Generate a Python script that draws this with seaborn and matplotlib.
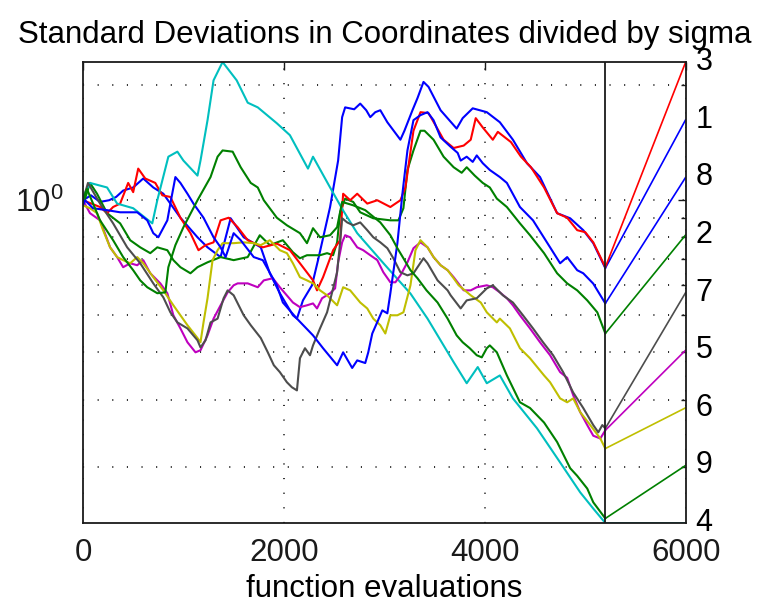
import numpy as np
import matplotlib
matplotlib.use("Agg")
import matplotlib.pyplot as plt
import seaborn as sns
from matplotlib.ticker import LogLocator, NullFormatter

# ---- data: function evaluations and standard deviations (divided by sigma) ----
blue1_x = [0, 80, 170, 260, 330, 400, 500, 600, 700, 800, 970, 1140, 1240, 1370, 1470, 1600, 1770, 1860,
           1960, 2090, 2130, 2190, 2280, 2340, 2460, 2540, 2580, 2610, 2700, 2760, 2820, 2860, 2910, 2960,
           3030, 3160, 3200, 3280, 3330, 3390, 3440, 3560, 3720, 3780, 3880, 4020, 4150, 4280, 4420,
           4550, 4720, 4850, 4980, 5080, 5200]
blue1_y = [1.0, 1.03, 0.99, 1.0, 1.02, 1.06, 1.08, 1.14, 1.08, 1.04, 0.90, 0.80, 0.753, 0.71, 0.897, 0.80,
           0.753, 0.644, 0.571, 0.50, 0.49, 0.547, 0.599, 0.697, 0.96, 1.27, 1.65, 1.75, 1.73, 1.79, 1.72,
           1.65, 1.70, 1.72, 1.60, 1.44, 1.52, 1.72, 1.85, 2.04, 1.98, 1.72, 1.54, 1.64, 1.74, 1.70, 1.60,
           1.44, 1.25, 1.15, 0.925, 0.897, 0.835, 0.772, 0.664]

green2_x = [0, 70, 140, 240, 370, 470, 570, 670, 740, 840, 900, 970, 1070, 1140, 1240, 1370, 1500, 1640,
            1760, 1860, 1990, 2090, 2160, 2230, 2360, 2430, 2490, 2530, 2560, 2610, 2690, 2760, 2890,
            3060, 3140, 3190, 3230, 3290, 3360, 3400, 3490, 3590, 3690, 3770, 3820, 3900, 3980, 4050,
            4120, 4220, 4350, 4450, 4590, 4720, 4820, 4920, 5020, 5120, 5200]
green2_y = [0.97, 1.11, 1.04, 0.925, 0.87, 0.786, 0.753, 0.727, 0.753, 0.74, 0.697, 0.668, 0.644, 0.668,
            0.688, 0.71, 0.697, 0.71, 0.81, 0.763, 0.786, 0.731, 0.705, 0.718, 0.718, 0.727, 0.718, 0.776,
            0.93, 1.01, 0.99, 0.93, 0.897, 0.886, 0.886, 0.953, 1.20, 1.35, 1.52, 1.52, 1.44, 1.30, 1.22,
            1.18, 1.22, 1.16, 1.11, 1.08, 1.01, 0.96, 0.87, 0.81, 0.727, 0.644, 0.606, 0.581, 0.547, 0.509,
            0.448]

red3_x = [0, 170, 240, 300, 370, 450, 500, 550, 620, 720, 790, 870, 970, 1070, 1150, 1220, 1300, 1370,
          1450, 1540, 1640, 1790, 1930, 2060, 2190, 2290, 2330, 2390, 2490, 2560, 2590, 2660, 2730, 2830,
          2930, 3060, 3160, 3210, 3290, 3360, 3440, 3510, 3590, 3690, 3790, 3860, 3910, 3980, 4080, 4130,
          4260, 4360, 4460, 4590, 4720, 4820, 4920, 5000, 5080, 5200]
red3_y = [1.0, 0.96, 0.925, 0.96, 0.98, 1.11, 1.05, 1.21, 1.14, 1.11, 1.03, 1.02, 0.90, 0.82, 0.74, 0.763,
          0.776, 0.886, 0.90, 0.85, 0.786, 0.753, 0.77, 0.74, 0.668, 0.617, 0.581, 0.629, 0.74, 0.786, 1.04,
          1.0, 1.04, 0.98, 1.0, 0.96, 1.0, 1.08, 1.52, 1.70, 1.69, 1.57, 1.44, 1.37, 1.39, 1.44, 1.64, 1.55,
          1.44, 1.51, 1.42, 1.30, 1.22, 1.08, 0.925, 0.90, 0.835, 0.825, 0.776, 0.668]

cyan4_x = [0, 70, 240, 340, 500, 690, 740, 850, 940, 1000, 1140, 1170, 1240, 1300, 1390, 1530, 1640, 1740,
           1930, 2060, 2240, 2290, 2460, 2590, 2730, 3000, 3260, 3430, 3530, 3690, 3820, 3930, 4020, 4150,
           4280, 4520, 4750, 4950, 5080, 5200]
cyan4_y = [1.02, 1.11, 1.08, 0.98, 0.953, 0.87, 1.0, 1.30, 1.34, 1.27, 1.16, 1.27, 1.62, 2.06, 2.30, 2.06,
           1.80, 1.75, 1.59, 1.48, 1.21, 1.30, 1.08, 0.94, 0.82, 0.68, 0.57, 0.49, 0.443, 0.377, 0.332, 0.366,
           0.332, 0.348, 0.303, 0.253, 0.206, 0.172, 0.156, 0.143]

magenta5_x = [0, 70, 170, 270, 340, 400, 470, 540, 600, 670, 770, 840, 900, 970, 1040, 1120, 1170, 1240,
              1300, 1370, 1440, 1500, 1540, 1640, 1740, 1800, 1890, 1960, 2090, 2160, 2230, 2290, 2330,
              2380, 2460, 2510, 2540, 2580, 2610, 2660, 2730, 2790, 2860, 2930, 2990, 3060, 3110, 3160,
              3230, 3290, 3360, 3430, 3490, 3560, 3630, 3690, 3790, 3860, 3920, 4020, 4080, 4150, 4220,
              4280, 4350, 4450, 4550, 4650, 4750, 4820, 4880, 4950, 5020, 5080, 5150, 5200]
magenta5_y = [1.0, 0.925, 0.886, 0.753, 0.71, 0.668, 0.684, 0.676, 0.697, 0.644, 0.606, 0.571, 0.50,
              0.462, 0.425, 0.40, 0.405, 0.443, 0.49, 0.531, 0.574, 0.599, 0.606, 0.606, 0.592, 0.617,
              0.625, 0.592, 0.54, 0.525, 0.531, 0.537, 0.521, 0.554, 0.571, 0.588, 0.688, 0.776, 0.81,
              0.80, 0.753, 0.74, 0.718, 0.697, 0.648, 0.61, 0.61, 0.636, 0.688, 0.749, 0.776, 0.753, 0.71,
              0.676, 0.656, 0.629, 0.581, 0.581, 0.592, 0.599, 0.592, 0.574, 0.554, 0.531, 0.50, 0.462,
              0.425, 0.393, 0.355, 0.343, 0.309, 0.279, 0.258, 0.242, 0.238, 0.25]

yellow6_x = [0, 70, 140, 200, 270, 340, 400, 470, 540, 600, 700, 800, 900, 970, 1040, 1140, 1170, 1200,
             1240, 1290, 1340, 1390, 1500, 1600, 1700, 1770, 1860, 1960, 2030, 2090, 2160, 2230, 2290,
             2360, 2430, 2530, 2590, 2660, 2760, 2830, 2890, 2960, 3010, 3060, 3130, 3190, 3260, 3310,
             3360, 3430, 3490, 3560, 3630, 3690, 3740, 3860, 3960, 4020, 4120, 4150, 4250, 4350, 4450,
             4590, 4650, 4750, 4820, 4880, 4950, 5050, 5150, 5200]
yellow6_y = [0.97, 0.953, 0.925, 0.835, 0.753, 0.71, 0.697, 0.684, 0.71, 0.684, 0.629, 0.581, 0.531, 0.50,
             0.471, 0.436, 0.425, 0.479, 0.554, 0.697, 0.74, 0.772, 0.772, 0.776, 0.772, 0.763, 0.786, 0.74,
             0.727, 0.684, 0.629, 0.617, 0.606, 0.581, 0.564, 0.531, 0.592, 0.581, 0.54, 0.521, 0.49, 0.471,
             0.448, 0.50, 0.50, 0.509, 0.599, 0.74, 0.786, 0.753, 0.71, 0.676, 0.656, 0.625, 0.599, 0.564,
             0.54, 0.509, 0.479, 0.49, 0.462, 0.41, 0.386, 0.348, 0.334, 0.303, 0.296, 0.303, 0.279, 0.258,
             0.238, 0.224]

gray7_x = [0, 50, 170, 300, 440, 570, 700, 800, 870, 940, 1040, 1140, 1170, 1220, 1270, 1340, 1400, 1440,
           1500, 1600, 1670, 1770, 1840, 1900, 1960, 2030, 2080, 2130, 2160, 2210, 2260, 2290, 2360, 2430,
           2490, 2530, 2560, 2580, 2630, 2690, 2760, 2830, 2890, 2960, 3030, 3090, 3160, 3230, 3290, 3390,
           3430, 3530, 3630, 3660, 3760, 3820, 3920, 4020, 4080, 4180, 4280, 4380, 4480, 4580, 4680, 4780,
           4880, 4980, 5080, 5130, 5170, 5200]
gray7_y = [1.0, 1.11, 0.98, 0.87, 0.753, 0.684, 0.606, 0.557, 0.509, 0.479, 0.462, 0.43, 0.412, 0.43, 0.479,
           0.49, 0.554, 0.581, 0.564, 0.50, 0.471, 0.436, 0.40, 0.37, 0.355, 0.334, 0.324, 0.318, 0.386,
           0.41, 0.393, 0.417, 0.462, 0.509, 0.588, 0.648, 0.776, 0.897, 0.875, 0.86, 0.875, 0.835, 0.80,
           0.776, 0.749, 0.705, 0.648, 0.636, 0.644, 0.705, 0.684, 0.617, 0.581, 0.564, 0.521, 0.547, 0.554,
           0.588, 0.599, 0.564, 0.54, 0.50, 0.462, 0.425, 0.393, 0.355, 0.314, 0.286, 0.258, 0.247, 0.258,
           0.253]

blue8_x = [0, 20, 100, 240, 370, 540, 640, 700, 750, 840, 870, 920, 970, 1040, 1100, 1200, 1300, 1370, 1420,
           1500, 1570, 1700, 1790, 1930, 1990, 2130, 2290, 2390, 2530, 2590, 2680, 2730, 2810, 2840, 2880,
           2930, 2980, 3030, 3060, 3130, 3180, 3230, 3290, 3360, 3430, 3490, 3560, 3660, 3730, 3760, 3820,
           3880, 3920, 3980, 4050, 4150, 4220, 4350, 4480, 4650, 4750, 4820, 4920, 4980, 5080, 5200]
blue8_y = [0.97, 1.0, 0.953, 0.942, 0.93, 0.93, 0.886, 0.82, 0.80, 0.886, 0.98, 1.15, 1.11, 1.04, 0.98, 0.90,
           0.80, 0.753, 0.71, 0.82, 0.786, 0.71, 0.697, 0.599, 0.54, 0.49, 0.443, 0.41, 0.37, 0.40, 0.364,
           0.381, 0.375, 0.40, 0.448, 0.48, 0.515, 0.506, 0.571, 0.772, 1.04, 1.35, 1.62, 1.67, 1.70, 1.62,
           1.46, 1.38, 1.33, 1.27, 1.30, 1.26, 1.31, 1.25, 1.20, 1.15, 1.11, 0.96, 0.886, 0.753, 0.684,
           0.71, 0.656, 0.644, 0.605, 0.537]

green9_x = [0, 40, 170, 300, 400, 500, 570, 640, 740, 820, 850, 920, 1000, 1140, 1270, 1340, 1390, 1490,
            1570, 1670, 1740, 1800, 1930, 2030, 2160, 2230, 2290, 2360, 2460, 2530, 2580, 2690, 2810, 2960,
            3060, 3130, 3190, 3260, 3330, 3420, 3530, 3630, 3720, 3780, 3850, 3920, 3970, 4020, 4050, 4120,
            4220, 4350, 4450, 4590, 4720, 4850, 4920, 5020, 5080, 5200]
green9_y = [1.0, 1.07, 0.886, 0.786, 0.71, 0.656, 0.617, 0.592, 0.571, 0.574, 0.668, 0.763, 0.85, 1.0, 1.15,
            1.30, 1.35, 1.34, 1.22, 1.11, 1.08, 1.0, 0.90, 0.86, 0.82, 0.772, 0.845, 0.80, 0.81, 0.85, 0.99,
            0.97, 0.942, 0.875, 0.81, 0.749, 0.705, 0.656, 0.625, 0.581, 0.54, 0.49, 0.443, 0.425, 0.41,
            0.393, 0.388, 0.41, 0.417, 0.40, 0.348, 0.296, 0.286, 0.262, 0.233, 0.199, 0.19, 0.176, 0.162,
            0.147]

series_x = [blue1_x, green2_x, red3_x, cyan4_x, magenta5_x, yellow6_x, gray7_x, blue8_x, green9_x]
series_y = [blue1_y, green2_y, red3_y, cyan4_y, magenta5_y, yellow6_y, gray7_y, blue8_y, green9_y]
coord_labels = ["1", "2", "3", "4", "5", "6", "7", "8", "9"]
colors = ["#0000ff", "#008000", "#ff0000", "#00bfbf", "#bf00bf", "#bfbf00", "#4d4d4d", "#0000ff", "#008000"]
x_ticks = [0, 2000, 4000, 6000]
x_max = 6000

# ---- style ----
sns.set_theme(style="white")
plt.rcParams['font.family'] = ['Liberation Sans', 'DejaVu Sans']
plt.rcParams['mathtext.fontset'] = 'custom'
plt.rcParams['mathtext.rm'] = 'Liberation Sans'
plt.rcParams['mathtext.it'] = 'Liberation Sans:italic'
plt.rcParams['mathtext.bf'] = 'Liberation Sans:bold'
for k in ['text.color', 'axes.labelcolor', 'xtick.color', 'ytick.color', 'axes.edgecolor']:
    plt.rcParams[k] = 'black'

fig = plt.figure(figsize=(7.57, 6.05), dpi=100)
ax = fig.add_axes([0.1096, 0.1355, 0.7962, 0.762])

lw = 1.5
for xs, ys, c in zip(series_x, series_y, colors):
    sns.lineplot(x=xs, y=ys, color=c, lw=lw, ax=ax, estimator=None, sort=False, legend=False)

ax.set_yscale('log')
all_y = np.concatenate([np.asarray(v, float) for v in series_y])
ymin, ymax = all_y.min(), all_y.max()
ax.set_ylim(ymin, ymax)
ax.set_xlim(0, x_max)

# final values -> annotation positions evenly spaced (log) on the right
last_x = max(max(x) for x in series_x)
finals = np.array([y[-1] for y in series_y])
order = np.argsort(finals)
ypos = 10 ** np.linspace(np.log10(ymin), np.log10(ymax), len(finals))
for rank, i in enumerate(order):
    ax.plot([last_x, x_max], [finals[i], ypos[rank]], color=colors[i], lw=1.2)
    ax.annotate(coord_labels[i], xy=(x_max, ypos[rank]), xytext=(7, 0), textcoords='offset points',
                va='center', ha='left', fontsize=22, color='black', annotation_clip=False)
ax.axvline(last_x, color='k', lw=1.3)

# axes styling (MATLAB-like)
ax.set_xticks(x_ticks)
ax.yaxis.set_minor_locator(LogLocator(base=10, subs=np.arange(2, 10)))
ax.yaxis.set_minor_formatter(NullFormatter())
dots = (0, (0.6, 7.5))
ax.grid(True, which='major', axis='both', color='k', lw=1.3, linestyle=dots)
ax.grid(True, which='minor', axis='y', color='k', lw=1.3, linestyle=dots)
ax.tick_params(which='both', direction='in', top=True, right=True, colors='k', labelsize=22.5)
ax.tick_params(which='major', length=6, width=1.0)
ax.tick_params(axis='x', which='major', pad=11)
ax.tick_params(which='minor', length=3.5, width=1.0)
ax.tick_params(axis='y', which='major', pad=14)
for s in ax.spines.values():
    s.set_color('k')
    s.set_linewidth(1.3)

ax.set_title('Standard Deviations in Coordinates divided by sigma', fontsize=22.5, pad=14, color='black')
ax.set_xlabel('function evaluations', fontsize=22.5, labelpad=4, color='black')

fig.savefig('out.png', dpi=100)
